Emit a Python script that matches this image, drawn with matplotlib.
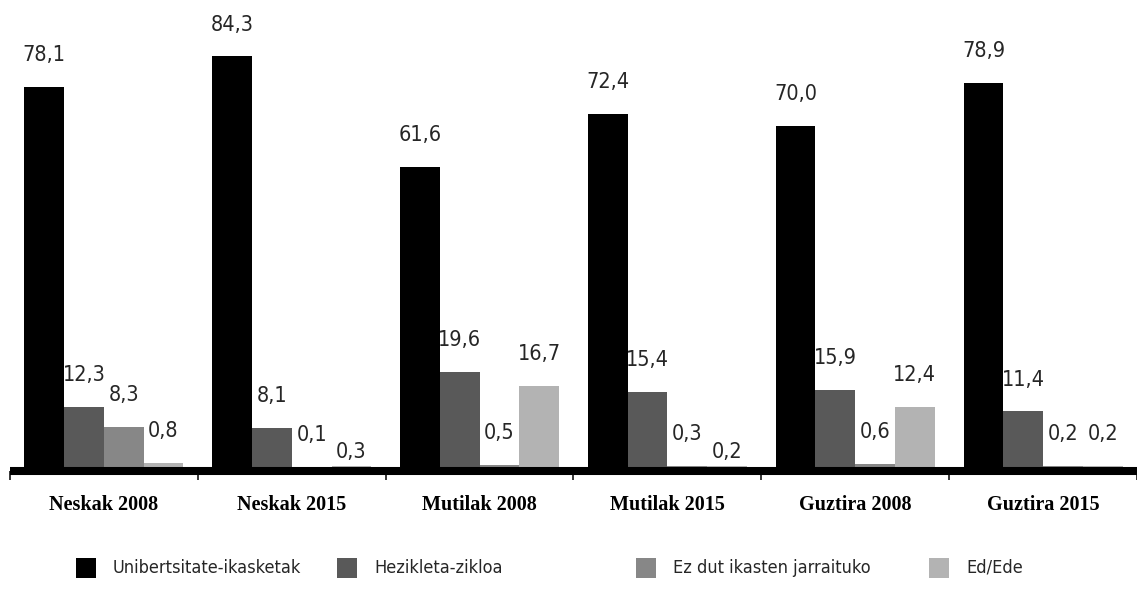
import numpy as np
import matplotlib
matplotlib.use("Agg")
import matplotlib.pyplot as plt
from matplotlib import font_manager
from matplotlib.patches import Rectangle

# Data (percent)
categories = ['Neskak 2008', 'Neskak 2015', 'Mutilak 2008', 'Mutilak 2015', 'Guztira 2008', 'Guztira 2015']
series_names = ['Unibertsitate-ikasketak', 'Hezikleta-zikloa', 'Ez dut ikasten jarraituko', 'Ed/Ede']
unibertsitate = [78.1, 84.3, 61.6, 72.4, 70.0, 78.9]
hezikleta = [12.3, 8.1, 19.6, 15.4, 15.9, 11.4]
ez_dut = [8.3, 0.1, 0.5, 0.3, 0.6, 0.2]
ed_ede = [0.8, 0.3, 16.7, 0.2, 12.4, 0.2]

colors = ['#000000', '#595959', '#878787', '#b3b3b3']

# narrow sans for numbers and legend: condensed DejaVu if present, else Roboto
have_cond = any(f.name == 'DejaVu Sans' and f.stretch == 'condensed'
                for f in font_manager.fontManager.ttflist)
if have_cond:
    narrow = dict(family='DejaVu Sans', stretch='condensed')
    val_size, leg_size = 15.5, 13
else:
    narrow = dict(family='Roboto')
    val_size, leg_size = 15, 13

W, H = 1137, 599
fig = plt.figure(figsize=(W / 100, H / 100), dpi=100)
ax = fig.add_axes([10 / W, (H - 467) / H, 1127 / W, 467 / H])

series = [unibertsitate, hezikleta, ez_dut, ed_ede]
x = np.arange(len(categories))
width = 40 / 189

for k, (vals, col) in enumerate(zip(series, colors)):
    pos = x + (k - 1.5) * width
    ax.bar(pos, vals, width=width, color=col, linewidth=0, zorder=2)
    for j, (p, v) in enumerate(zip(pos, vals)):
        # the two tiny Ed/Ede values in 2015 sit closer to their bars
        off = 10 if (k == 3 and j in (1, 3)) else 23
        ax.annotate(f'{v:.1f}'.replace('.', ','), (p, v), xytext=(0, off),
                    textcoords='offset points', ha='center', va='center',
                    fontsize=val_size, color='#262626', **narrow)

ax.set_xlim(-0.5, -0.5 + 1127 / 189)
ax.set_ylim(0, 467 / 4.87)

for s in ['top', 'right', 'left']:
    ax.spines[s].set_visible(False)
ax.spines['bottom'].set_position(('outward', 3))
ax.spines['bottom'].set_linewidth(5.8)
ax.spines['bottom'].set_capstyle('butt')
ax.set_yticks([])

ax.set_xticks(x, categories)
ax.tick_params(axis='x', which='major', length=0, pad=17)
ax.set_xticks(np.arange(-0.5, len(categories)), minor=True)
ax.tick_params(axis='x', which='minor', length=6.5, width=1.1, direction='out')
for lbl in ax.get_xticklabels():
    lbl.set_fontfamily('Liberation Serif')
    lbl.set_fontweight('bold')
    lbl.set_fontsize(14.5)

# legend row
leg_x = [76, 337, 636, 929]
for name, col, lx in zip(series_names, colors, leg_x):
    fig.patches.append(Rectangle((lx / W, (H - 578) / H), 20 / W, 20 / H,
                                 transform=fig.transFigure, color=col, linewidth=0))
    fig.text((lx + 37) / W, (H - 568) / H, name, ha='left', va='center',
             fontsize=leg_size, color='#262626', **narrow)

fig.savefig('out.png', dpi=100)
